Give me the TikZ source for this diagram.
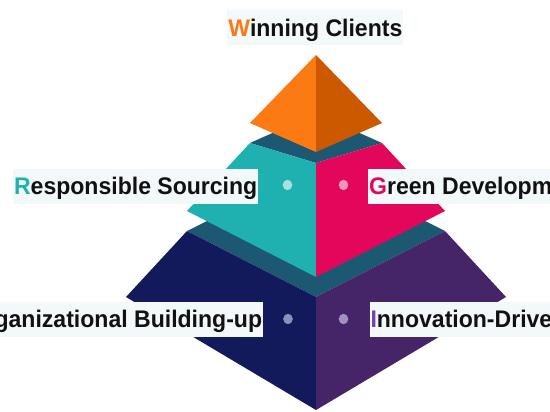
\documentclass[tikz,border=0pt]{standalone}
\usepackage{fontspec}
\newfontfamily\lblfont[FakeStretch=0.96]{Liberation Sans}
\definecolor{orL}{HTML}{FB7A14}
\definecolor{orR}{HTML}{CC5800}
\definecolor{band}{HTML}{1D5872}
\definecolor{tealF}{HTML}{1FB1AF}
\definecolor{redF}{HTML}{E2075B}
\definecolor{navyF}{HTML}{131A5C}
\definecolor{purF}{HTML}{462468}
\definecolor{dotTeal}{HTML}{A6E0DF}
\definecolor{dotRed}{HTML}{F394B8}
\definecolor{dotNavy}{HTML}{8D90B8}
\definecolor{dotPur}{HTML}{A290C0}
\definecolor{boxbg}{HTML}{F3F8FB}
\definecolor{ink}{HTML}{111111}
\definecolor{letI}{HTML}{7440B2}
\begin{document}
\begin{tikzpicture}[x=1pt,y=-1pt,
  lbl/.style={fill=boxbg, minimum height=35pt, inner xsep=1pt, inner ysep=0pt,
    text height=17.2pt, text depth=0pt, text=ink,
    font={\lblfont\bfseries\fontsize{24pt}{28pt}\selectfont}},
  spot/.style={x radius=4.8pt, y radius=5.2pt}]
\useasboundingbox (0,0) rectangle (550,412);
\fill[white] (0,0) rectangle (550,412);
\clip (0,0) rectangle (550,412);
% bottom tier
\fill[band] (187,231) -- (316,166.5) -- (445,231) -- (316,297) -- cycle;
\fill[navyF] (187,231) -- (316,297) -- (316,410) -- (126,297) -- cycle;
\fill[purF] (316,297) -- (445,231) -- (506,297) -- (316,410) -- cycle;
% middle tier
\fill[band] (250,143) -- (316,113.5) -- (382,143) -- (316,163) -- cycle;
\fill[tealF] (250,143) -- (316,163) -- (316,277) -- (187,211) -- cycle;
\fill[redF] (316,163) -- (382,143) -- (445,211) -- (316,277) -- cycle;
% top
\fill[orL] (316,55) -- (250,123) -- (316,152) -- cycle;
\fill[orR] (316,55) -- (382,123) -- (316,152) -- cycle;
% dots
\fill[dotTeal] (287.5,185) ellipse[spot];
\fill[dotRed] (343.5,185) ellipse[spot];
\fill[dotNavy] (288,319) ellipse[spot];
\fill[dotPur] (343.5,319) ellipse[spot];
% labels
\node[lbl] (wc) at (315.3,27.5) {\textcolor{orL}{W}inning Clients};
\node[lbl, anchor=east] (rs) at (258.5,186.3) {\textcolor{tealF}{R}esponsible Sourcing};
\node[lbl, anchor=west] (gd) at (368,186.3) {\textcolor{redF}{G}reen Development};
\node[lbl, anchor=east] (ob) at (263.3,319.2) {Organizational Building-up};
\node[lbl, anchor=west] (id) at (369.3,319.2) {\textcolor{letI}{I}nnovation-Driven};
\end{tikzpicture}
\end{document}
